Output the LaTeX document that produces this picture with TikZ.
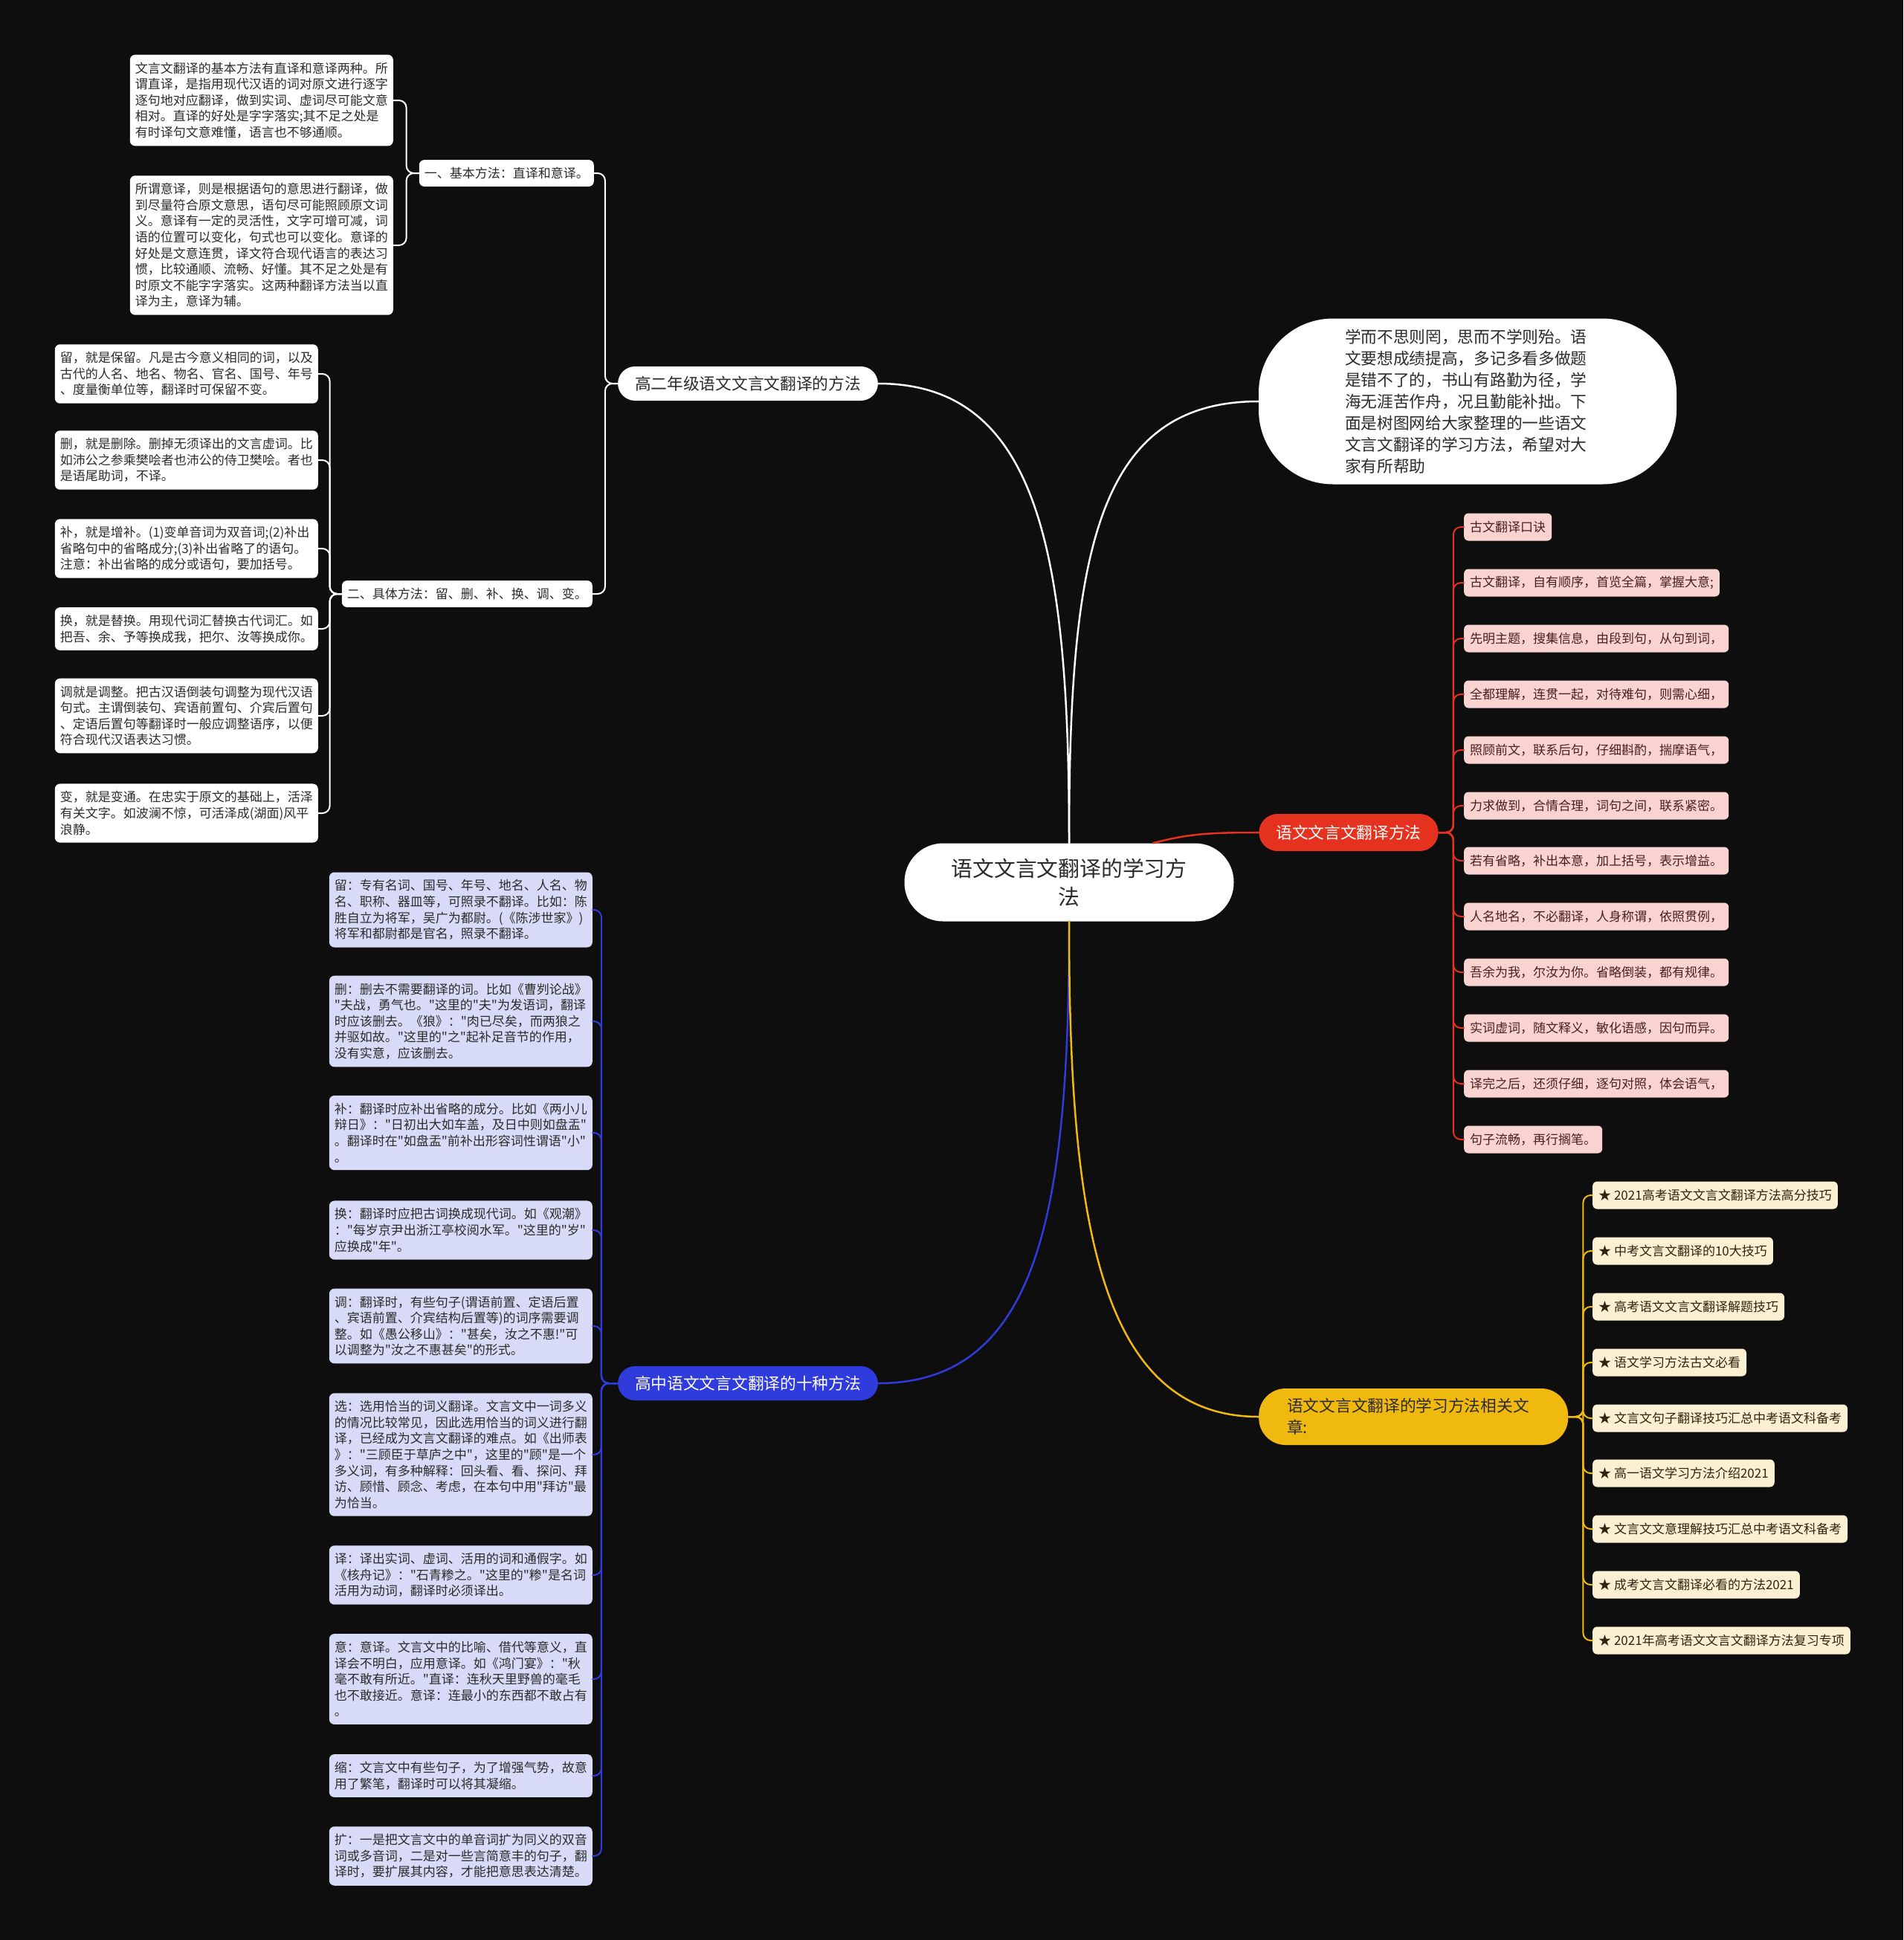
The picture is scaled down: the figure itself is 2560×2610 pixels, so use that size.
\documentclass[tikz,border=0pt]{standalone}
\usepackage{fontspec}
\newfontfamily\cjk{Noto Sans CJK SC}
\usepackage{tikz}
\definecolor{bg}{HTML}{0E0E0E}
\definecolor{ink}{HTML}{2B2B2B}
\definecolor{bluebr}{HTML}{2F3CDB}
\definecolor{bluebox}{HTML}{D8DBF7}
\definecolor{redbr}{HTML}{E5321F}
\definecolor{redbox}{HTML}{F9D3CF}
\definecolor{redink}{HTML}{4A1F1F}
\definecolor{yelbr}{HTML}{F0B90F}
\definecolor{yelbox}{HTML}{FCF0D2}
\definecolor{yelink}{HTML}{2D2510}

\begin{document}
\begin{tikzpicture}[x=1pt, y=-1pt,
    wire/.style={line width=2.5pt, line cap=round},
    fork/.style={line width=2pt, line cap=round, rounded corners=10pt},
    pill/.style={rounded corners=23pt, minimum height=46pt, inner xsep=23pt, text=ink, font=\cjk\fontsize{21.7pt}{29pt}\selectfont},
    note/.style={rounded corners=7pt, inner xsep=7pt, inner ysep=10pt, align=left, text width=340pt, text=ink, font=\cjk\fontsize{17pt}{21.6pt}\selectfont},
    tag/.style={rounded corners=6pt, inner xsep=8pt, minimum height=37pt, anchor=west, font=\cjk\fontsize{17pt}{21pt}\selectfont}]
    \useasboundingbox (0,0) rectangle (2560,2610);
    \fill[bg] (0,0) rectangle (2560,2610);

    \node[fill=white, rounded corners=52pt, minimum width=443pt, minimum height=105pt, align=center, text=ink, font=\cjk\fontsize{28.8pt}{38pt}\selectfont] (root) at (1438,1187) {语文文言文翻译的学习方\\法};
    \node[fill=white, rounded corners=100pt, minimum width=562pt, minimum height=223pt, text width=330pt, align=left, text=ink, font=\cjk\fontsize{21.7pt}{29pt}\selectfont] (intro) at (1974,540) {学而不思则罔，思而不学则殆。语\\文要想成绩提高，多记多看多做题\\是错不了的，书山有路勤为径，学\\海无涯苦作舟，况且勤能补拙。下\\面是树图网给大家整理的一些语文\\文言文翻译的学习方法，希望对大\\家有所帮助};

    \node[pill, fill=white] (b1) at (1006,516) {高二年级语文文言文翻译的方法};
    \node[pill, fill=bluebr, text=white] (b2) at (1006,1861) {高中语文文言文翻译的十种方法};
    \node[pill, fill=redbr, text=white, minimum height=50pt, rounded corners=25pt] (b3) at (1814,1120) {语文文言文翻译方法};
    \node[pill, fill=yelbr, anchor=west, minimum height=76pt, rounded corners=36pt, text width=340pt, align=left, inner xsep=38pt] (b4) at (1693,1906) {语文文言文翻译的学习方法相关文\\章:};

    \node[note, fill=white, text width=, minimum height=34pt, anchor=east] (S1) at (799,233) {一、基本方法：直译和意译。};
    \node[note, fill=white, text width=, minimum height=34pt, anchor=east] (S2) at (797,799) {二、具体方法：留、删、补、换、调、变。};

    \node[note, fill=white, anchor=east] (A1) at (529,135) {文言文翻译的基本方法有直译和意译两种。所\\谓直译，是指用现代汉语的词对原文进行逐字\\逐句地对应翻译，做到实词、虚词尽可能文意\\相对。直译的好处是字字落实;其不足之处是\\有时译句文意难懂，语言也不够通顺。};
    \node[note, fill=white, anchor=east] (A2) at (529,330) {所谓意译，则是根据语句的意思进行翻译，做\\到尽量符合原文意思，语句尽可能照顾原文词\\义。意译有一定的灵活性，文字可增可减，词\\语的位置可以变化，句式也可以变化。意译的\\好处是文意连贯，译文符合现代语言的表达习\\惯，比较通顺、流畅、好懂。其不足之处是有\\时原文不能字字落实。这两种翻译方法当以直\\译为主，意译为辅。};

    \node[note, fill=white, anchor=east] (B1) at (428,503) {留，就是保留。凡是古今意义相同的词，以及\\古代的人名、地名、物名、官名、国号、年号\\、度量衡单位等，翻译时可保留不变。};
    \node[note, fill=white, anchor=east] (B2) at (428,619) {删，就是删除。删掉无须译出的文言虚词。比\\如沛公之参乘樊哙者也沛公的侍卫樊哙。者也\\是语尾助词，不译。};
    \node[note, fill=white, anchor=east] (B3) at (428,738) {补，就是增补。(1)变单音词为双音词;(2)补出\\省略句中的省略成分;(3)补出省略了的语句。\\注意：补出省略的成分或语句，要加括号。};
    \node[note, fill=white, anchor=east] (B4) at (428,846) {换，就是替换。用现代词汇替换古代词汇。如\\把吾、余、予等换成我，把尔、汝等换成你。};
    \node[note, fill=white, anchor=east] (B5) at (428,963) {调就是调整。把古汉语倒装句调整为现代汉语\\句式。主谓倒装句、宾语前置句、介宾后置句\\、定语后置句等翻译时一般应调整语序，以便\\符合现代汉语表达习惯。};
    \node[note, fill=white, anchor=east] (B6) at (428,1094) {变，就是变通。在忠实于原文的基础上，活泽\\有关文字。如波澜不惊，可活泽成(湖面)风平\\浪静。};

    \node[note, fill=bluebox, anchor=east] (C1) at (797,1224) {留：专有名词、国号、年号、地名、人名、物\\名、职称、器皿等，可照录不翻译。比如：陈\\胜自立为将军，吴广为都尉。(《陈涉世家》)\\将军和都尉都是官名，照录不翻译。};
    \node[note, fill=bluebox, anchor=east] (C2) at (797,1374) {删：删去不需要翻译的词。比如《曹刿论战》\\"夫战，勇气也。"这里的"夫"为发语词，翻译\\时应该删去。《狼》："肉已尽矣，而两狼之\\并驱如故。"这里的"之"起补足音节的作用，\\没有实意，应该删去。};
    \node[note, fill=bluebox, anchor=east] (C3) at (797,1524) {补：翻译时应补出省略的成分。比如《两小儿\\辩日》："日初出大如车盖，及日中则如盘盂"\\。翻译时在"如盘盂"前补出形容词性谓语"小"\\。};
    \node[note, fill=bluebox, anchor=east] (C4) at (797,1655) {换：翻译时应把古词换成现代词。如《观潮》\\："每岁京尹出浙江亭校阅水军。"这里的"岁"\\应换成"年"。};
    \node[note, fill=bluebox, anchor=east] (C5) at (797,1784) {调：翻译时，有些句子(谓语前置、定语后置\\、宾语前置、介宾结构后置等)的词序需要调\\整。如《愚公移山》："甚矣，汝之不惠!"可\\以调整为"汝之不惠甚矣"的形式。};
    \node[note, fill=bluebox, anchor=east] (C6) at (797,1957) {选：选用恰当的词义翻译。文言文中一词多义\\的情况比较常见，因此选用恰当的词义进行翻\\译，已经成为文言文翻译的难点。如《出师表\\》："三顾臣于草庐之中"，这里的"顾"是一个\\多义词，有多种解释：回头看、看、探问、拜\\访、顾惜、顾念、考虑，在本句中用"拜访"最\\为恰当。};
    \node[note, fill=bluebox, anchor=east] (C7) at (797,2119) {译：译出实词、虚词、活用的词和通假字。如\\《核舟记》："石青糁之。"这里的"糁"是名词\\活用为动词，翻译时必须译出。};
    \node[note, fill=bluebox, anchor=east] (C8) at (797,2259) {意：意译。文言文中的比喻、借代等意义，直\\译会不明白，应用意译。如《鸿门宴》："秋\\毫不敢有所近。"直译：连秋天里野兽的毫毛\\也不敢接近。意译：连最小的东西都不敢占有\\。};
    \node[note, fill=bluebox, anchor=east] (C9) at (797,2389) {缩：文言文中有些句子，为了增强气势，故意\\用了繁笔，翻译时可以将其凝缩。};
    \node[note, fill=bluebox, anchor=east] (C10) at (797,2497) {扩：一是把文言文中的单音词扩为同义的双音\\词或多音词，二是对一些言简意丰的句子，翻\\译时，要扩展其内容，才能把意思表达清楚。};

    \node[tag, fill=redbox, text=redink] (R1) at (1969,709) {古文翻译口诀};
    \node[tag, fill=redbox, text=redink] (R2) at (1969,784) {古文翻译，自有顺序，首览全篇，掌握大意;};
    \node[tag, fill=redbox, text=redink] (R3) at (1969,859) {先明主题，搜集信息，由段到句，从句到词，};
    \node[tag, fill=redbox, text=redink] (R4) at (1969,934) {全都理解，连贯一起，对待难句，则需心细，};
    \node[tag, fill=redbox, text=redink] (R5) at (1969,1009) {照顾前文，联系后句，仔细斟酌，揣摩语气，};
    \node[tag, fill=redbox, text=redink] (R6) at (1969,1084) {力求做到，合情合理，词句之间，联系紧密。};
    \node[tag, fill=redbox, text=redink] (R7) at (1969,1158) {若有省略，补出本意，加上括号，表示增益。};
    \node[tag, fill=redbox, text=redink] (R8) at (1969,1233) {人名地名，不必翻译，人身称谓，依照贯例，};
    \node[tag, fill=redbox, text=redink] (R9) at (1969,1308) {吾余为我，尔汝为你。省略倒装，都有规律。};
    \node[tag, fill=redbox, text=redink] (R10) at (1969,1383) {实词虚词，随文释义，敏化语感，因句而异。};
    \node[tag, fill=redbox, text=redink] (R11) at (1969,1458) {译完之后，还须仔细，逐句对照，体会语气，};
    \node[tag, fill=redbox, text=redink] (R12) at (1969,1533) {句子流畅，再行搁笔。};

    \node[tag, fill=yelbox, text=yelink] (Y1) at (2142,1608) {★ 2021高考语文文言文翻译方法高分技巧};
    \node[tag, fill=yelbox, text=yelink] (Y2) at (2142,1683) {★ 中考文言文翻译的10大技巧};
    \node[tag, fill=yelbox, text=yelink] (Y3) at (2142,1758) {★ 高考语文文言文翻译解题技巧};
    \node[tag, fill=yelbox, text=yelink] (Y4) at (2142,1833) {★ 语文学习方法古文必看};
    \node[tag, fill=yelbox, text=yelink] (Y5) at (2142,1908) {★ 文言文句子翻译技巧汇总中考语文科备考};
    \node[tag, fill=yelbox, text=yelink] (Y6) at (2142,1982) {★ 高一语文学习方法介绍2021};
    \node[tag, fill=yelbox, text=yelink] (Y7) at (2142,2057) {★ 文言文文意理解技巧汇总中考语文科备考};
    \node[tag, fill=yelbox, text=yelink] (Y8) at (2142,2132) {★ 成考文言文翻译必看的方法2021};
    \node[tag, fill=yelbox, text=yelink] (Y9) at (2142,2207) {★ 2021年高考语文文言文翻译方法复习专项};

    \draw[wire, white] (root.north) .. controls +(0,-385) and +(218,0) .. (b1.east);
    \draw[wire, white] (root.north) .. controls +(0,-385) and +(-220,0) .. (intro.west);
    \draw[wire, bluebr] (root.south) .. controls +(0,385) and +(218,0) .. (b2.east);
    \draw[wire, yelbr] (root.south) .. controls +(0,385) and +(-220,0) .. (b4.west);
    \draw[wire, redbr] (root.25) .. controls +(45,-12) and +(-70,0) .. (b3.west);

    \foreach \n in {S1,S2} \draw[fork, white] (b1.west) -- ++(-17,0) |- (\n.east);
    \foreach \n in {A1,A2} \draw[fork, white] (S1.west) -- ++(-17,0) |- (\n.east);
    \foreach \n in {B1,B2,B3,B4,B5,B6} \draw[fork, white] (S2.west) -- ++(-16,0) |- (\n.east);
    \foreach \n in {C1,C2,C3,C4,C5,C6,C7,C8,C9,C10} \draw[fork, bluebr] (b2.west) -- ++(-22,0) |- (\n.east);
    \foreach \n in {R1,R2,R3,R4,R5,R6,R7,R8,R9,R10,R11,R12} \draw[fork, redbr] (b3.east) -- ++(20,0) |- (\n.west);
    \foreach \n in {Y1,Y2,Y3,Y4,Y5,Y6,Y7,Y8,Y9} \draw[fork, yelbr] (b4.east) -- ++(20,0) |- (\n.west);
\end{tikzpicture}
\end{document}
